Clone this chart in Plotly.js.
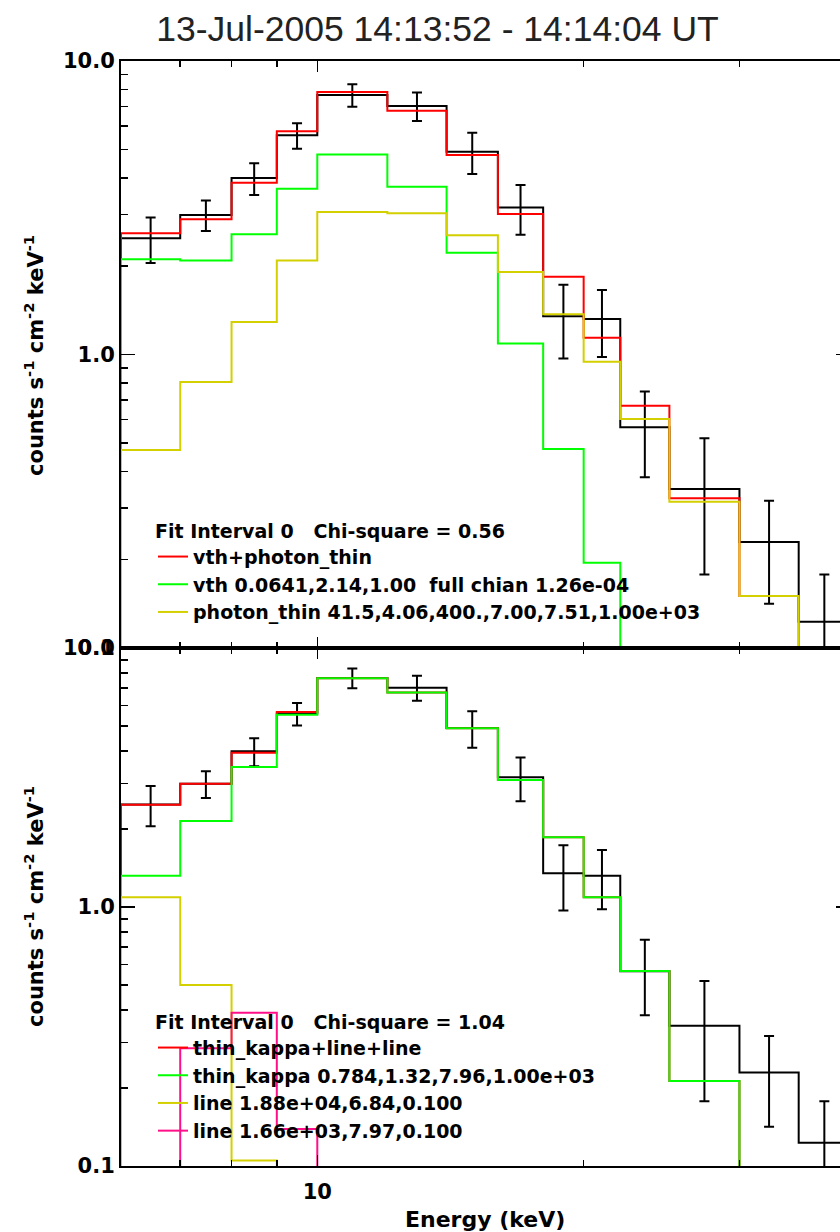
<!DOCTYPE html>
<html>
<head>
<meta charset="utf-8">
<script src="https://cdn.plot.ly/plotly-3.0.1.min.js"></script>
<style>
html, body { margin: 0; padding: 0; overflow: hidden; background: #fff; }
#chart { width: 860px; height: 1232px; }
</style>
</head>
<body>
<div id="chart"></div>
<script>
// Energy bin edges (keV)
const binEdges = [6, 7, 8, 9, 10, 12, 14, 16, 18, 20, 22, 25, 30, 35, 40];
// Observed count rate (same interval in both panels) and 1-sigma errors
const obsRate = [2.49, 2.99, 3.99, 5.58, 7.66, 7.03, 4.91, 3.17, 1.35, 1.32, 0.565, 0.348, 0.2296, 0.1229];
const obsErr  = [0.44, 0.355, 0.495, 0.555, 0.67, 0.78, 0.79, 0.61, 0.38, 0.34, 0.183, 0.17, 0.088, 0.055];

// Top panel: vth + photon_thin
const topTotal  = [2.59, 2.89, 3.85, 5.76, 7.84, 6.77, 4.78, 3.01, 1.84, 1.14, 0.669, 0.3236, 0.1504, 0.075];
const topVth    = [2.11, 2.09, 2.57, 3.67, 4.80, 3.73, 2.22, 1.09, 0.476, 0.195, 0.066, 0.02, 0.005, 0.001];
const topPhoton = [0.473, 0.806, 1.29, 2.09, 3.06, 3.03, 2.55, 1.91, 1.37, 0.945, 0.603, 0.315, 0.1504, 0.075];

// Bottom panel: thin_kappa + line + line
const botTotal = [2.48, 2.99, 3.94, 5.66, 7.64, 6.74, 4.90, 3.09, 1.86, 1.09, 0.566, 0.213, 0.06, 0.02];
const botKappa = [1.32, 2.15, 3.47, 5.53, 7.64, 6.74, 4.90, 3.09, 1.86, 1.09, 0.566, 0.213, 0.06, 0.02];
const botLine1 = [1.09, 0.50, 0.105, 0.01, 0.001, 0.001, 0.001, 0.001, 0.001, 0.001, 0.001, 0.001, 0.001, 0.001];
const botLine2 = [0.06, 0.285, 0.391, 0.139, 0.01, 0.001, 0.001, 0.001, 0.001, 0.001, 0.001, 0.001, 0.001, 0.001];

// Minor tick positions
const xMinorTicks = [6, 7, 8, 9, 20, 30, 40];
const yMinorTicks = [0.2, 0.3, 0.4, 0.5, 0.6, 0.7, 0.8, 0.9, 2, 3, 4, 5, 6, 7, 8, 9];

const topNames = ['vth+photon_thin',
  'vth 0.0641,2.14,1.00\u00a0 full chian 1.26e-04',
  'photon_thin 41.5,4.06,400.,7.00,7.51,1.00e+03'];
const botNames = ['thin_kappa+line+line',
  'thin_kappa 0.784,1.32,7.96,1.00e+03',
  'line 1.88e+04,6.84,0.100',
  'line 1.66e+03,7.97,0.100'];
const topChi = 'Fit Interval 0\u00a0\u00a0 Chi-square = 0.56';
const botChi = 'Fit Interval 0\u00a0\u00a0 Chi-square = 1.04';

const COLORS = {black: '#000000', red: '#ff0000', green: '#00ff00', yellow: '#d4d000', pink: '#ff1088'};
const FLOOR = 1e-3;

function stepX() { return [binEdges[0]].concat(binEdges); }
function stepY(vals) { return [FLOOR].concat(vals, [vals[vals.length - 1]]); }
const centers = binEdges.slice(0, -1).map((e, i) => Math.sqrt(e * binEdges[i + 1]));

function hist(vals, color, xa, ya, name, legend) {
  return {
    type: 'scatter', mode: 'lines', x: stepX(), y: stepY(vals),
    line: {shape: 'hv', color: color, width: 2},
    xaxis: xa, yaxis: ya, name: name || '',
    showlegend: !!name, legend: legend || 'legend', hoverinfo: 'skip'
  };
}
function errs(xa, ya) {
  return {
    type: 'scatter', mode: 'markers', x: centers, y: obsRate,
    marker: {size: 1, color: 'rgba(0,0,0,0)'},
    error_y: {type: 'data', array: obsErr, symmetric: true, color: '#000', thickness: 2, width: 5},
    xaxis: xa, yaxis: ya, showlegend: false, hoverinfo: 'skip'
  };
}
// empty helper trace so the overlaid minor-tick axes get drawn
function axisHolder(xa, ya) {
  return {type: 'scatter', mode: 'lines', x: [], y: [], xaxis: xa, yaxis: ya, showlegend: false, hoverinfo: 'skip'};
}

const traces = [
  hist(obsRate, COLORS.black, 'x', 'y'),
  errs('x', 'y'),
  hist(topTotal, COLORS.red, 'x', 'y', topNames[0], 'legend'),
  hist(topVth, COLORS.green, 'x', 'y', topNames[1], 'legend'),
  hist(topPhoton, COLORS.yellow, 'x', 'y', topNames[2], 'legend'),
  hist(obsRate, COLORS.black, 'x2', 'y2'),
  errs('x2', 'y2'),
  hist(botTotal, COLORS.red, 'x2', 'y2', botNames[0], 'legend2'),
  hist(botKappa, COLORS.green, 'x2', 'y2', botNames[1], 'legend2'),
  hist(botLine1, COLORS.yellow, 'x2', 'y2', botNames[2], 'legend2'),
  hist(botLine2, COLORS.pink, 'x2', 'y2', botNames[3], 'legend2'),
  axisHolder('x3', 'y3'),
  axisHolder('x4', 'y4')
];

const tickFont = {family: 'DejaVu Sans', size: 21, color: '#000', weight: 'bold'};
const legFont = {family: 'DejaVu Sans', size: 19, color: '#000', weight: 'bold'};
const xRange = [Math.log10(6), Math.log10(40)];

function xAxis(anchor, showLabels) {
  return {
    type: 'log', range: xRange, anchor: anchor,
    showline: true, linecolor: '#000', linewidth: 2, mirror: 'ticks',
    ticks: 'inside', ticklen: 11, tickwidth: 1.5, tickcolor: '#000',
    tickmode: 'linear', tick0: 0, dtick: 1,
    showticklabels: showLabels, tickfont: tickFont, ticklabelstandoff: 6,
    showgrid: false, zeroline: false, fixedrange: true
  };
}
function xMinor(over, anchor) {
  return {
    type: 'log', range: xRange, overlaying: over, anchor: anchor, side: 'bottom',
    showline: true, linecolor: '#000', linewidth: 2, mirror: 'ticks',
    ticks: 'inside', ticklen: 6, tickwidth: 1.5, tickcolor: '#000',
    tickmode: 'array', tickvals: xMinorTicks, showticklabels: false,
    showgrid: false, zeroline: false, fixedrange: true
  };
}
function yAxis(anchor, domain) {
  return {
    type: 'log', range: [-1, 1], anchor: anchor, domain: domain,
    showline: true, linecolor: '#000', linewidth: 2, mirror: 'ticks',
    ticks: 'inside', ticklen: 14, tickwidth: 1.5, tickcolor: '#000',
    tickmode: 'linear', tick0: 0, dtick: 1, tickformat: '.1f',
    tickfont: tickFont, ticklabelstandoff: 0,
    showgrid: false, zeroline: false, fixedrange: true
  };
}
function yMinor(over, anchor) {
  return {
    type: 'log', range: [-1, 1], overlaying: over, anchor: anchor, side: 'left',
    showline: true, linecolor: '#000', linewidth: 2, mirror: 'ticks',
    ticks: 'inside', ticklen: 7, tickwidth: 1.5, tickcolor: '#000',
    tickmode: 'array', tickvals: yMinorTicks, showticklabels: false,
    showgrid: false, zeroline: false, fixedrange: true
  };
}

const split = 518 / 1105;
const yLabel = 'counts s<sup>-1</sup> cm<sup>-2</sup> keV<sup>-1</sup>';
const labFont = {family: 'DejaVu Sans', size: 21, color: '#000', weight: 'bold'};

const layout = {
  width: 860, height: 1232,
  margin: {l: 121, r: 10, t: 61, b: 66},
  paper_bgcolor: '#fff', plot_bgcolor: '#fff',
  title: {
    text: '13-Jul-2005 14:13:52 - 14:14:04 UT',
    font: {family: 'Liberation Sans', size: 35.5, color: '#222'},
    xref: 'container', yref: 'container', x: 437.5 / 860, xanchor: 'center',
    y: 1 - 28.5 / 1232, yanchor: 'middle'
  },
  xaxis: xAxis('y', false),
  yaxis: yAxis('x', [split, 1]),
  xaxis2: xAxis('y2', true),
  yaxis2: yAxis('x2', [0, split]),
  xaxis3: xMinor('x', 'y3'),
  yaxis3: yMinor('y', 'x3'),
  xaxis4: xMinor('x2', 'y4'),
  yaxis4: yMinor('y2', 'x4'),
  legend: {
    x: (153 - 121) / 729, y: (1166 - 513) / 1105, xanchor: 'left', yanchor: 'top',
    bgcolor: 'rgba(0,0,0,0)', borderwidth: 0, font: legFont, itemwidth: 30,
    title: {text: topChi, font: legFont, side: 'top'}, tracegroupgap: 0
  },
  legend2: {
    x: (153 - 121) / 729, y: (1166 - 1004) / 1105, xanchor: 'left', yanchor: 'top',
    bgcolor: 'rgba(0,0,0,0)', borderwidth: 0, font: legFont, itemwidth: 30,
    title: {text: botChi, font: legFont, side: 'top'}, tracegroupgap: 0
  },
  annotations: [
    {text: yLabel, textangle: -90, xref: 'paper', yref: 'paper', x: (34 - 121) / 729, y: (1166 - 356) / 1105,
     xanchor: 'center', yanchor: 'middle', showarrow: false, font: labFont},
    {text: yLabel, textangle: -90, xref: 'paper', yref: 'paper', x: (34 - 121) / 729, y: (1166 - 907) / 1105,
     xanchor: 'center', yanchor: 'middle', showarrow: false, font: labFont},
    {text: 'Energy (keV)', xref: 'paper', yref: 'paper', x: (485 - 121) / 729, y: (1166 - 1219) / 1105,
     xanchor: 'center', yanchor: 'middle', showarrow: false,
     font: {family: 'DejaVu Sans', size: 22, color: '#000', weight: 'bold'}}
  ],
  showlegend: true
};

Plotly.newPlot('chart', traces, layout, {staticPlot: true, displayModeBar: false});
</script>
</body>
</html>
